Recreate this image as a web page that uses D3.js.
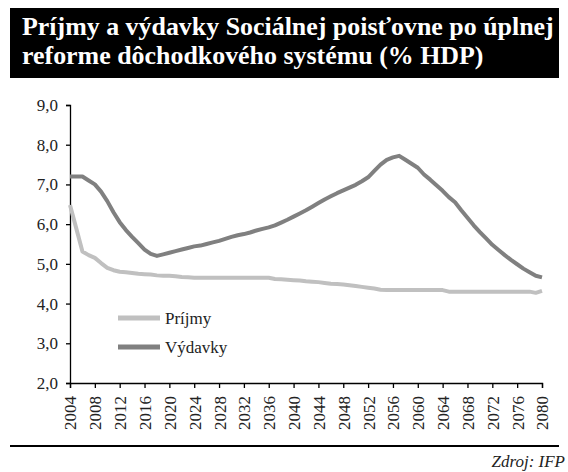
<!DOCTYPE html>
<html>
<head>
<meta charset="utf-8">
<script src="https://cdn.jsdelivr.net/npm/d3@7"></script>
<style>
  body { margin: 0; background: #fff; }
  svg { display: block; }
</style>
</head>
<body>
<svg id="chart" width="568" height="472"></svg>
<script>
const years = d3.range(2004, 2081);
const yTicks = [2, 3, 4, 5, 6, 7, 8, 9];
const xTicks = d3.range(2004, 2081, 4);
const seriesNames = ['Príjmy', 'Výdavky'];
const seriesColors = ['#c0c0c0', '#808080'];

// Príjmy (% HDP), 2004-2080
const prijmy = [
  6.48, 5.90, 5.31, 5.22, 5.15, 5.02, 4.90, 4.84, 4.80, 4.79,
  4.77, 4.75, 4.74, 4.73, 4.71, 4.70, 4.70, 4.69, 4.67, 4.66,
  4.65, 4.65, 4.65, 4.65, 4.65, 4.65, 4.65, 4.65, 4.65, 4.65,
  4.65, 4.65, 4.65, 4.62, 4.61, 4.60, 4.59, 4.58, 4.56, 4.55,
  4.54, 4.52, 4.50, 4.49, 4.48, 4.46, 4.44, 4.42, 4.40, 4.38,
  4.35, 4.34, 4.34, 4.34, 4.34, 4.34, 4.34, 4.34, 4.34, 4.34,
  4.34, 4.30, 4.30, 4.30, 4.30, 4.30, 4.30, 4.30, 4.30, 4.30,
  4.30, 4.30, 4.30, 4.30, 4.30, 4.27, 4.32
];

// Výdavky (% HDP), 2004-2080
const vydavky = [
  7.20, 7.20, 7.20, 7.10, 7.00, 6.82, 6.58, 6.30, 6.05, 5.85,
  5.68, 5.52, 5.36, 5.25, 5.20, 5.24, 5.28, 5.32, 5.36, 5.40,
  5.44, 5.46, 5.50, 5.54, 5.58, 5.63, 5.68, 5.72, 5.75, 5.79,
  5.84, 5.88, 5.92, 5.97, 6.04, 6.11, 6.19, 6.27, 6.35, 6.44,
  6.53, 6.62, 6.70, 6.78, 6.85, 6.92, 6.99, 7.08, 7.18, 7.34,
  7.50, 7.62, 7.68, 7.72, 7.62, 7.52, 7.42, 7.25, 7.12, 6.98,
  6.84, 6.68, 6.55, 6.35, 6.16, 5.97, 5.80, 5.64, 5.48, 5.35,
  5.22, 5.10, 4.99, 4.88, 4.79, 4.70, 4.66
];

const svg = d3.select('#chart');
const serif = '"Liberation Serif", "Times New Roman", serif';

// title box
svg.append('rect')
    .attr('x', 10)
    .attr('y', 8)
    .attr('width', 549)
    .attr('height', 70)
    .attr('fill', '#000');

const titleLines = ['Príjmy a výdavky Sociálnej poisťovne po úplnej', 'reforme dôchodkového systému (% HDP)'];
const title = svg.append('g')
    .attr('font-family', serif)
    .attr('font-weight', 'bold')
    .attr('font-size', 22)
    .attr('fill', '#fff');
title.selectAll('text')
    .data(titleLines)
    .enter()
    .append('text')
    .attr('x', 22)
    .attr('y', (d, i) => 35 + i * 29)
    .text(d => d);
// fit the first line to the box width
const firstW = title.select('text').node().getComputedTextLength();
title.attr('font-size', 22 * 532 / firstW);

const x = d3.scaleLinear().domain([2004, 2080]).range([70, 542]);
const y = d3.scaleLinear().domain([2, 9]).range([383, 105]);

const yAxis = svg.append('g')
    .attr('transform', `translate(${x(2004)},0)`)
    .call(d3.axisLeft(y).tickValues(yTicks).tickSize(4).tickPadding(8)
        .tickFormat(d => d3.format('.1f')(d).replace('.', ',')));
yAxis.select('.domain').attr('stroke', '#000').attr('stroke-width', 1.3);
yAxis.selectAll('.tick line').attr('stroke', '#000').attr('stroke-width', 1.3);
yAxis.selectAll('text')
    .attr('font-family', serif)
    .attr('font-size', 17)
    .attr('fill', '#222');

const xAxis = svg.append('g')
    .attr('transform', `translate(0,${y(2)})`)
    .call(d3.axisBottom(x).tickValues(xTicks).tickSize(5).tickFormat(d3.format('d')));
xAxis.select('.domain').attr('stroke', '#000').attr('stroke-width', 1.3);
xAxis.selectAll('.tick line').attr('stroke', '#000').attr('stroke-width', 1.3);
xAxis.selectAll('text')
    .attr('font-family', serif)
    .attr('font-size', 17)
    .attr('fill', '#222')
    .attr('transform', 'rotate(-90)')
    .attr('text-anchor', 'end')
    .attr('x', -13)
    .attr('y', 0)
    .attr('dy', '0.35em');

const line = d3.line()
    .x((d, i) => x(years[i]))
    .y(d => y(d));

svg.selectAll('.series')
    .data([prijmy, vydavky])
    .enter()
    .append('path')
    .attr('class', 'series')
    .attr('d', line)
    .attr('fill', 'none')
    .attr('stroke', (d, i) => seriesColors[i])
    .attr('stroke-width', 4)
    .attr('stroke-linejoin', 'round');

// legend
const legend = svg.append('g')
    .selectAll('g')
    .data(seriesNames)
    .enter()
    .append('g')
    .attr('transform', (d, i) => `translate(118,${318 + i * 29})`);
legend.append('line')
    .attr('x1', 0)
    .attr('x2', 42)
    .attr('stroke', (d, i) => seriesColors[i])
    .attr('stroke-width', 5);
legend.append('text')
    .attr('x', 47)
    .attr('dy', '0.35em')
    .attr('font-family', serif)
    .attr('font-size', 17)
    .attr('fill', '#222')
    .text(d => d);

// footer
svg.append('line')
    .attr('x1', 10)
    .attr('x2', 559)
    .attr('y1', 446)
    .attr('y2', 446)
    .attr('stroke', '#000')
    .attr('stroke-width', 2);
svg.append('text')
    .attr('x', 565)
    .attr('y', 467)
    .attr('text-anchor', 'end')
    .attr('font-family', serif)
    .attr('font-style', 'italic')
    .attr('font-size', 17)
    .attr('fill', '#222')
    .text('Zdroj: IFP');
</script>
</body>
</html>
